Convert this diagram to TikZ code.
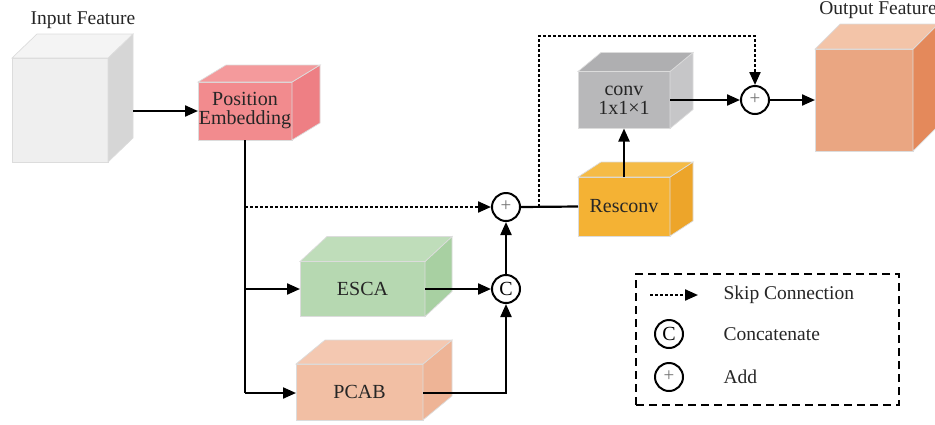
\documentclass[tikz,border=0pt]{standalone}
\usepackage{fontspec}
\setmainfont{Liberation Serif}
\usetikzlibrary{arrows.meta}
\definecolor{edgecol}{HTML}{DCDCDC}
\definecolor{inF}{HTML}{EFEFEF}\definecolor{inS}{HTML}{D6D6D6}\definecolor{inT}{HTML}{F4F4F4}
\definecolor{peF}{HTML}{F28B8E}\definecolor{peS}{HTML}{EE7F84}\definecolor{peT}{HTML}{F49A9C}
\definecolor{esF}{HTML}{B6D8B1}\definecolor{esS}{HTML}{A8D0A2}\definecolor{esT}{HTML}{BFDDBA}
\definecolor{pcF}{HTML}{F2BFA4}\definecolor{pcS}{HTML}{EEB496}\definecolor{pcT}{HTML}{F4C8B1}
\definecolor{rsF}{HTML}{F4B234}\definecolor{rsS}{HTML}{EDA52A}\definecolor{rsT}{HTML}{F5BB46}
\definecolor{cvF}{HTML}{B8B8BA}\definecolor{cvS}{HTML}{C6C6C8}\definecolor{cvT}{HTML}{AFAFB1}
\definecolor{otF}{HTML}{EAA682}\definecolor{otS}{HTML}{E4895B}\definecolor{otT}{HTML}{F3C4A8}
\newcommand\cubesides[5]{%
  \filldraw[fill=#4,draw=edgecol,line width=0.7pt] (#1.south east) -- ([shift={(#2,-#3)}]#1.south east) -- ([shift={(#2,-#3)}]#1.north east) -- (#1.north east) -- cycle;
  \filldraw[fill=#5,draw=edgecol,line width=0.7pt] (#1.north west) -- ([shift={(#2,-#3)}]#1.north west) -- ([shift={(#2,-#3)}]#1.north east) -- (#1.north east) -- cycle;
}
\begin{document}
\begin{tikzpicture}[x=1pt,y=-1pt,
  cube/.style={draw=edgecol,line width=0.7pt,inner sep=0pt,outer sep=0pt,align=center,font=\fontsize{20}{19}\selectfont,text=black!85},
  conn/.style={line width=2.2pt,-{Triangle[length=13pt,width=11pt]}},
  line/.style={line width=2.2pt},
  op/.style={circle,draw,line width=2pt,minimum size=28pt,inner sep=0pt,fill=white},
  lbl/.style={font=\fontsize{19.5}{20}\selectfont,text=black!85},
  plus/.style={font=\fontsize{19}{19}\selectfont,text=black!55},
  cat/.style={font=\fontsize{20}{20}\selectfont,text=black!85},
]
\useasboundingbox (0,0) rectangle (935,424);
\begin{scope}
\clip (0,0) rectangle (935,424);
% cubes
\node[cube,fill=inF,minimum width=96pt,minimum height=104pt] (in) at (60,110) {};
\cubesides{in}{25}{24}{inS}{inT}
\node[cube,fill=peF,minimum width=94pt,minimum height=58pt] (pe) at (245,111) {Position\\Embedding};
\cubesides{pe}{28}{17}{peS}{peT}
\node[cube,fill=esF,minimum width=125pt,minimum height=55pt] (esca) at (362.5,289) {ESCA};
\cubesides{esca}{27}{25}{esS}{esT}
\node[cube,fill=pcF,minimum width=127pt,minimum height=56pt] (pcab) at (359.5,392) {PCAB};
\cubesides{pcab}{29}{24}{pcS}{pcT}
\node[cube,fill=rsF,minimum width=92pt,minimum height=59pt] (res) at (624,206.5) {Resconv};
\cubesides{res}{23}{15}{rsS}{rsT}
\node[cube,fill=cvF,minimum width=92pt,minimum height=57pt] (conv) at (624,100) {conv\\1x1×1};
\cubesides{conv}{23}{19}{cvS}{cvT}
\node[cube,fill=otF,minimum width=98pt,minimum height=102pt] (out) at (864,100) {};
\cubesides{out}{25}{25}{otS}{otT}
% labels
\node[lbl] (inlbl) at (83,20) {Input Feature};
\node[lbl] (outlbl) at (878,10) {Output Feature};
% operators
\node[op] (p1) at (506,207) {\raisebox{1pt}{\fontsize{19}{19}\selectfont\color{black!55}+}};
\node[op] (cc) at (506,289) {\fontsize{20}{20}\selectfont C};
\node[op] (p2) at (755,100) {\raisebox{1pt}{\fontsize{19}{19}\selectfont\color{black!55}+}};
% junctions
\coordinate (j1) at (245,207);
\coordinate (j2) at (245,289);
\coordinate (j3) at (245,393);
\coordinate (s1) at (539,207);
\coordinate (s2) at (539,36);
\coordinate (inout) at (133,111);
% connectors
\draw[conn] (inout) -- (pe.west);
\draw[line] (pe.south) -- (j3);
\draw[conn] (j3) -- (pcab.west |- j3);
\draw[conn] (j2) -- (esca.west);
\draw[conn,dash pattern=on 3pt off 2pt] (j1) -- (p1.west);
\draw[conn] (esca.east) -- (cc.west);
\draw[conn] (pcab.east |- j3) -| (cc.south);
\draw[conn] (cc.north) -- (p1.south);
\draw[line] (p1.east) -- (res.west);
\draw[conn,dash pattern=on 3pt off 2pt] (s1) -- (s2) -| (p2.north);
\draw[conn] (res.north) -- (conv.south);
\draw[conn] (conv.east) -- (p2.west);
\draw[conn] (p2.east) -- (out.west);
% legend
\node[draw,line width=1.5pt,dash pattern=on 8pt off 5pt,minimum width=263pt,minimum height=131pt,inner sep=0pt] (legend) at (767.5,339.5) {};
\coordinate (la) at (650,295);
\coordinate (lb) at (698,295);
\draw[conn,dash pattern=on 3pt off 2pt] (la) -- (lb);
\node[lbl,anchor=west] (t1) at (720,295) {Skip Connection};
\node[op] (lc) at (669,334) {\fontsize{20}{20}\selectfont C};
\node[lbl,anchor=west] (t2) at (720,334) {Concatenate};
\node[op] (lp) at (669,377) {\raisebox{1pt}{\fontsize{19}{19}\selectfont\color{black!55}+}};
\node[lbl,anchor=west] (t3) at (720,377) {Add};
\end{scope}
\end{tikzpicture}
\end{document}
